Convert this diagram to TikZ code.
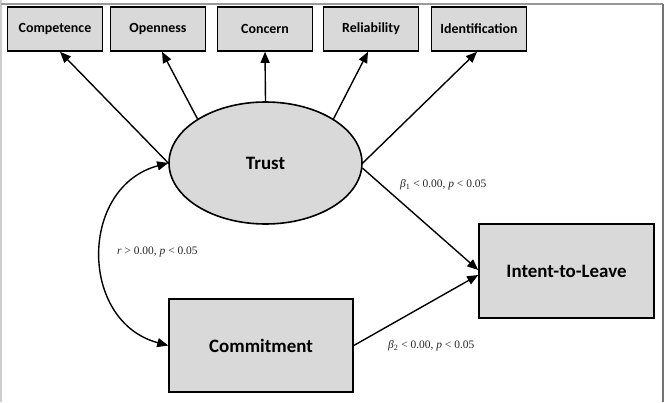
\documentclass[tikz,border=0pt]{standalone}
\usepackage{fontspec}
\setmainfont{Liberation Serif}
\newfontfamily\calib{Carlito}
\usepackage{tikz}
\usetikzlibrary{shapes.geometric, arrows.meta, positioning, calc}
\definecolor{boxfill}{HTML}{D9D9D9}

\begin{document}
\begin{tikzpicture}[x=1bp, y=1bp,
  indicator/.style={rectangle, draw=black, fill=boxfill, line width=1.6pt, minimum width=95bp, minimum height=44bp, inner sep=0pt, font=\calib\bfseries\fontsize{14}{16}\selectfont},
  construct/.style={rectangle, draw=black, fill=boxfill, line width=1.6pt, inner sep=0pt, font=\calib\bfseries\fontsize{19}{22}\selectfont},
  latent/.style={ellipse, draw=black, fill=boxfill, line width=1.6pt, minimum width=193bp, minimum height=122bp, inner sep=0pt, font=\calib\bfseries\fontsize{19}{22}\selectfont},
  path/.style={draw=black, line width=1.4pt, -{Triangle[length=11bp,width=9bp]}},
  coef/.style={font=\fontsize{11.5}{13}\selectfont, text=black!85, anchor=west, inner sep=0pt}
]
\useasboundingbox (0,0) rectangle (666,402);
% frame
\draw[black!20, line width=1.5pt] (1,402) -- (1,0);
\draw[black!40, line width=1.5pt] (1,398) -- (663,398);
\draw[black!55, line width=1.5pt] (663,398) -- (663,0);

% indicators
\node[indicator] (comp)  at (55,373)  {Competence};
\node[indicator] (open)  at (158,373) {Openness};
\node[indicator] (conc)  at (265,373) {Concern};
\node[indicator] (relia) at (371,373) {Reliability};
\node[indicator] (ident) at (479,373) {Identification};

% constructs
\node[latent] (trust) at (265.5,239) {Trust};
\node[construct, minimum width=184bp, minimum height=93bp] (commit) at (261,56.5) {Commitment};
\node[construct, minimum width=175bp, minimum height=94bp] (leave)  at (566.5,131) {Intent-to-Leave};

% loadings
\draw[path] (trust.west) -- ([xshift=5bp]comp.south);
\draw[path] (trust.147) -- ([xshift=4bp]open.south);
\draw[path] (trust.north) -- (conc.south);
\draw[path] (trust.33) -- ([xshift=-3bp]relia.south);
\draw[path] (trust.east) -- ([xshift=-2bp]ident.south);

% structural paths
\draw[path] (trust.-3) -- ([yshift=1bp]leave.west);
\draw[path] (commit.east) -- ([yshift=-4bp]leave.west);
\draw[draw=black, line width=1.4pt, {Triangle[length=11bp,width=9bp]}-{Triangle[length=11bp,width=9bp]}]
  (commit.west) to[out=165, in=195, looseness=1.3] (trust.west);

% coefficients
\node[coef] (b1) at (400,217) {\textit{β}\textsubscript{1} < 0.00, \textit{p} < 0.05};
\node[coef] (rc) at (117,150) {\textit{r} > 0.00, \textit{p} < 0.05};
\node[coef] (b2) at (388,56) {\textit{β}\textsubscript{2} < 0.00, \textit{p} < 0.05};
\end{tikzpicture}
\end{document}
